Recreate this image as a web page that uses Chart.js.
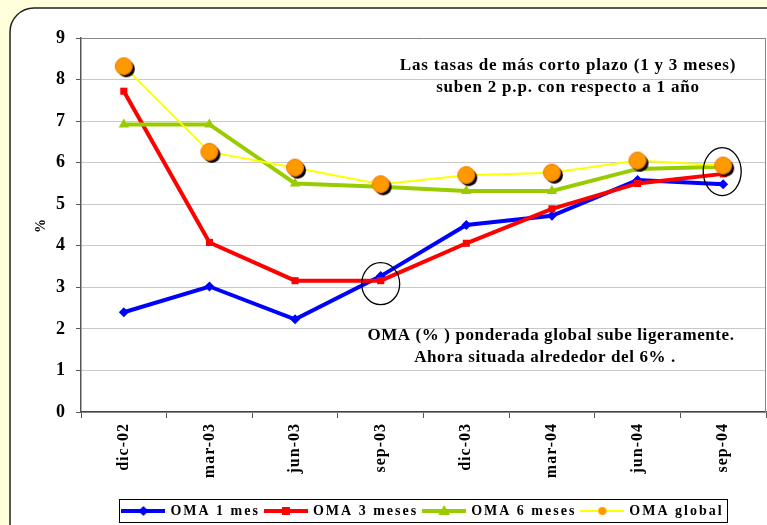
<!DOCTYPE html>
<html>
<head>
<meta charset="utf-8">
<script src="https://cdn.jsdelivr.net/npm/chart.js@4.4.0/dist/chart.umd.min.js"></script>
<style>
  html, body { margin: 0; padding: 0; background: #FFFFDC; }
  #wrap { width: 767px; height: 525px; }
</style>
</head>
<body>
<div id="wrap"><canvas id="omaChart" width="767" height="525"></canvas></div>
<script>
// data
const labels = ['dic-02', 'mar-03', 'jun-03', 'sep-03', 'dic-03', 'mar-04', 'jun-04', 'sep-04'];
const oma1 = [2.4, 3.02, 2.23, 3.27, 4.5, 4.72, 5.58, 5.48];
const oma3 = [7.72, 4.08, 3.16, 3.16, 4.06, 4.89, 5.5, 5.73];
const oma6 = [6.92, 6.92, 5.5, 5.42, 5.32, 5.32, 5.85, 5.9];
const omaGlobal = [8.32, 6.26, 5.88, 5.48, 5.7, 5.76, 6.05, 5.93];
const yTicks = [0, 1, 2, 3, 4, 5, 6, 7, 8, 9];
const seriesNames = ['OMA 1 mes', 'OMA 3 meses', 'OMA 6 meses', 'OMA global'];
const noteTop = ['Las tasas de más corto plazo (1 y 3 meses)', 'suben 2 p.p. con respecto a 1 año'];
const noteBottom = ['OMA (% ) ponderada global sube ligeramente.', 'Ahora situada alrededor del 6% .'];

const serif = "'Liberation Serif', 'Times New Roman', serif";

// orange dot with black shadow
function globalDot() {
  const c = document.createElement('canvas');
  c.width = 28; c.height = 28;
  const g = c.getContext('2d');
  g.fillStyle = '#000';
  g.beginPath(); g.arc(16.5, 16.5, 8.5, 0, Math.PI * 2); g.fill();
  g.fillStyle = '#FF9900'; g.strokeStyle = '#F07800'; g.lineWidth = 1;
  g.beginPath(); g.arc(14, 14, 8.5, 0, Math.PI * 2); g.fill(); g.stroke();
  return c;
}

// legend symbol: line with marker in the middle
function legendIcon(color, width, marker) {
  const c = document.createElement('canvas');
  c.width = 44; c.height = 14;
  const g = c.getContext('2d');
  g.strokeStyle = color; g.lineWidth = width;
  g.beginPath(); g.moveTo(0, 7); g.lineTo(44, 7); g.stroke();
  g.fillStyle = color;
  g.beginPath();
  if (marker === 'diamond') {
    g.moveTo(22, 2); g.lineTo(27, 7); g.lineTo(22, 12); g.lineTo(17, 7);
  } else if (marker === 'square') {
    g.rect(18, 3, 8, 8);
  } else if (marker === 'triangle') {
    g.moveTo(22, 1); g.lineTo(28, 11); g.lineTo(16, 11);
  } else {
    g.fillStyle = '#FF9900';
    g.arc(22, 7, 4, 0, Math.PI * 2);
  }
  g.closePath(); g.fill();
  return c;
}

const legendIcons = [
  legendIcon('#0000FF', 4, 'diamond'),
  legendIcon('#FF0000', 4, 'square'),
  legendIcon('#99CC00', 4, 'triangle'),
  legendIcon('#FFFF00', 2, 'circle')
];

const decor = {
  id: 'decor',
  beforeUpdate(chart) { chart.ctx.letterSpacing = '2px'; },
  beforeDraw(chart) {
    const c = chart.ctx;
    c.letterSpacing = '2px';
    c.save();
    c.fillStyle = '#FFFFDC';
    c.fillRect(0, 0, chart.width, chart.height);
    c.beginPath();
    c.roundRect(10, 8, 820, 560, 24);
    c.fillStyle = '#fff'; c.fill();
    c.lineWidth = 1.5; c.strokeStyle = '#222'; c.stroke();
    c.restore();
  },
  beforeDatasetsDraw(chart) {
    const c = chart.ctx, a = chart.chartArea;
    c.save();
    c.strokeStyle = '#888'; c.lineWidth = 1;
    c.beginPath(); c.moveTo(a.right - 0.5, a.top); c.lineTo(a.right - 0.5, a.bottom); c.stroke();
    c.restore();
  },
  afterDatasetsDraw(chart) {
    const c = chart.ctx, x = chart.scales.x, y = chart.scales.y;
    c.save();
    c.letterSpacing = '0.8px';
    c.fillStyle = '#000';
    c.textAlign = 'center'; c.textBaseline = 'middle';
    c.font = 'bold 17px ' + serif;
    c.fillText(noteTop[0], 568, 66);
    c.fillText(noteTop[1], 568, 88);
    c.letterSpacing = '0.6px';
    c.fillText(noteBottom[0], 551, 336);
    c.fillText(noteBottom[1], 545, 358);
    // circles around sep-03 and sep-04
    c.strokeStyle = '#000'; c.lineWidth = 1.3;
    c.beginPath();
    c.ellipse(x.getPixelForValue(3), y.getPixelForValue(oma3[3]) + 3, 19, 21, 0, 0, Math.PI * 2);
    c.stroke();
    c.beginPath();
    c.ellipse(x.getPixelForValue(7) - 1, y.getPixelForValue(omaGlobal[7]) + 6, 19, 24, 0, 0, Math.PI * 2);
    c.stroke();
    c.restore();
    // tick labels (z: 1) are drawn after this with tighter spacing
    c.letterSpacing = '1px';
  },
  afterDraw(chart) {
    const hb = chart.legend.legendHitBoxes;
    if (!hb || !hb.length) return;
    const c = chart.ctx;
    const first = hb[0], last = hb[hb.length - 1];
    c.save();
    c.strokeStyle = '#000'; c.lineWidth = 1;
    c.strokeRect(Math.round(first.left - 4) + 0.5, Math.round(first.top - 5) + 0.5,
      Math.round(last.left + last.width - first.left + 8), Math.round(first.height + 9));
    c.restore();
  }
};

const ctx = document.getElementById('omaChart').getContext('2d');
const omaChart = new Chart(ctx, {
  type: 'line',
  data: {
    labels: labels,
    datasets: [
      {
        label: seriesNames[0], data: oma1, order: 4,
        borderColor: '#0000FF', backgroundColor: '#0000FF', borderWidth: 4,
        pointStyle: 'rectRot', pointRadius: 5, pointBorderWidth: 0, tension: 0
      },
      {
        label: seriesNames[1], data: oma3, order: 3,
        borderColor: '#FF0000', backgroundColor: '#FF0000', borderWidth: 4,
        pointStyle: 'rect', pointRadius: 5, pointBorderWidth: 0, tension: 0
      },
      {
        label: seriesNames[2], data: oma6, order: 2,
        borderColor: '#99CC00', backgroundColor: '#99CC00', borderWidth: 4,
        pointStyle: 'triangle', pointRadius: 6, pointBorderWidth: 0, tension: 0
      },
      {
        label: seriesNames[3], data: omaGlobal, order: 1,
        borderColor: '#FFFF00', backgroundColor: '#FF9900', borderWidth: 2,
        pointStyle: globalDot(), pointRadius: 9, tension: 0
      }
    ]
  },
  options: {
    responsive: false,
    animation: false,
    layout: { autoPadding: false, padding: { left: 0, right: 1, top: 38, bottom: -3 } },
    scales: {
      x: {
        offset: true,
        grid: { display: true, drawOnChartArea: false, offset: true, tickLength: 6, color: '#555' },
        border: { color: '#444', width: 1.5 },
        ticks: {
          minRotation: 90, maxRotation: 90, padding: 5, color: '#000', z: 1,
          font: { family: serif, size: 16, weight: 'bold' }
        },
        afterFit: (s) => { s.height = 86; s.paddingLeft = 0; s.paddingRight = 0; }
      },
      y: {
        min: 0, max: 9,
        afterBuildTicks: (s) => { s.ticks = yTicks.map(v => ({ value: v })); },
        grid: {
          tickLength: 5, tickColor: '#555',
          color: (c) => (c.tick && c.tick.value === 9 ? '#888' : '#c8c8c8')
        },
        border: { color: '#555', width: 1.5 },
        ticks: {
          padding: 10, color: '#000', z: 1,
          font: { family: serif, size: 18, weight: 'bold' }
        },
        title: {
          display: true, text: '%', color: '#000',
          font: { family: serif, size: 14, weight: 'bold' },
          padding: { top: 33, bottom: 0 }
        },
        afterFit: (s) => { s.width = 81; }
      }
    },
    plugins: {
      tooltip: { enabled: false },
      legend: {
        position: 'bottom',
        fullSize: false,
        labels: {
          usePointStyle: true,
          pointStyleWidth: 40,
          padding: 6,
          color: '#000',
          font: { family: serif, size: 14, weight: 'bold' },
          sort: (a, b) => a.datasetIndex - b.datasetIndex,
          generateLabels: (chart) => Chart.defaults.plugins.legend.labels.generateLabels(chart)
            .map((item) => Object.assign(item, { pointStyle: legendIcons[item.datasetIndex] }))
        }
      }
    }
  },
  plugins: [decor]
});
</script>
</body>
</html>
